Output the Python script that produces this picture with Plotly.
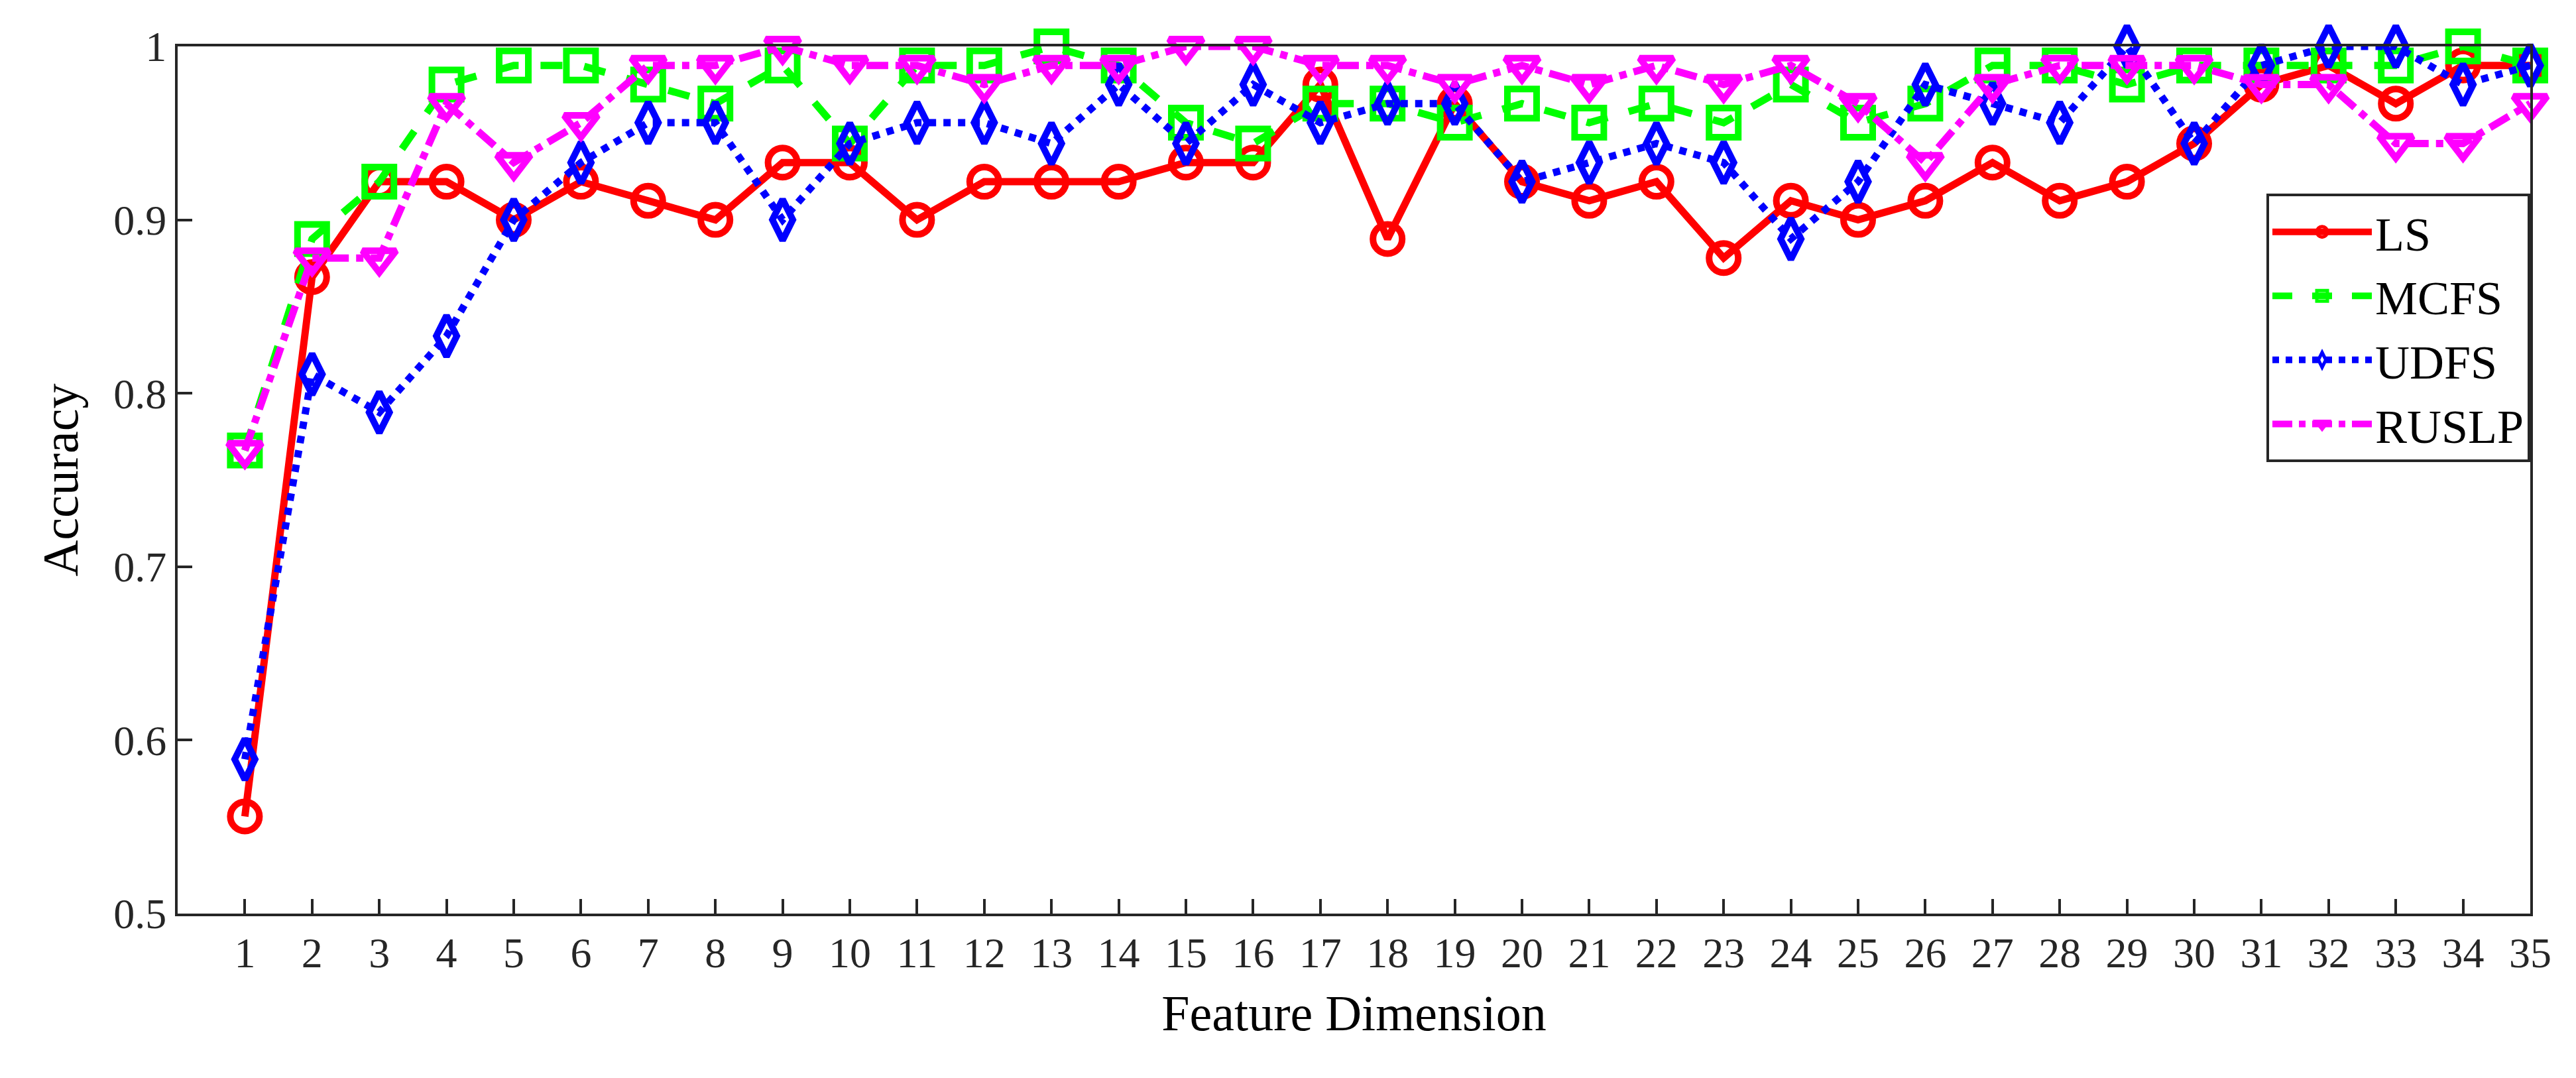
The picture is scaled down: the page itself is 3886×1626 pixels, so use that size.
import plotly.graph_objects as go

dims = list(range(1, 36))

ls = [0.556, 0.867, 0.922, 0.922, 0.9, 0.922, 0.911, 0.9, 0.933, 0.933, 0.9, 0.922,
      0.922, 0.922, 0.933, 0.933, 0.978, 0.889, 0.967, 0.922, 0.911, 0.922, 0.878,
      0.911, 0.9, 0.911, 0.933, 0.911, 0.922, 0.944, 0.978, 0.989, 0.967, 0.989, 0.989]
mcfs = [0.767, 0.889, 0.922, 0.978, 0.989, 0.989, 0.978, 0.967, 0.989, 0.944, 0.989, 0.989,
        1.0, 0.989, 0.956, 0.944, 0.967, 0.967, 0.956, 0.967, 0.956, 0.967, 0.956,
        0.978, 0.956, 0.967, 0.989, 0.989, 0.978, 0.989, 0.989, 0.989, 0.989, 1.0, 0.989]
udfs = [0.589, 0.811, 0.789, 0.833, 0.9, 0.933, 0.956, 0.956, 0.9, 0.944, 0.956, 0.956,
        0.944, 0.978, 0.944, 0.978, 0.956, 0.967, 0.967, 0.922, 0.933, 0.944, 0.933,
        0.889, 0.922, 0.978, 0.967, 0.956, 1.0, 0.944, 0.989, 1.0, 1.0, 0.978, 0.989]
ruslp = [0.767, 0.878, 0.878, 0.967, 0.933, 0.956, 0.989, 0.989, 1.0, 0.989, 0.989, 0.978,
         0.989, 0.989, 1.0, 1.0, 0.989, 0.989, 0.978, 0.989, 0.978, 0.989, 0.978,
         0.989, 0.967, 0.933, 0.978, 0.989, 0.989, 0.989, 0.978, 0.978, 0.944, 0.944, 0.967]

series = [
    ("LS", ls, "#ff0000", "solid", "circle-open"),
    ("MCFS", mcfs, "#00ff00", "dash", "square-open"),
    ("UDFS", udfs, "#0000ff", "dot", "diamond-tall-open"),
    ("RUSLP", ruslp, "#ff00ff", "dashdot", "triangle-down-open"),
]

fig = go.Figure()
for name, vals, col, dash, sym in series:
    fig.add_trace(go.Scatter(
        x=dims, y=vals, name=name, mode="lines+markers",
        line=dict(color=col, width=11, dash=dash),
        marker=dict(symbol=sym, size=44, color=col, line=dict(color=col, width=10)),
        cliponaxis=False,
    ))

font = "Liberation Serif, Times New Roman, serif"
axis = dict(showline=True, linecolor="#262626", linewidth=4, mirror=True,
            ticks="inside", ticklen=22, tickwidth=4, tickcolor="#262626",
            showgrid=False, zeroline=False, tickfont=dict(size=64, family=font, color="#262626"))

fig.update_layout(
    width=3886, height=1626,
    margin=dict(l=260, r=77, t=62, b=256),
    plot_bgcolor="white", paper_bgcolor="white",
    font=dict(family=font, color="black"),
    xaxis=dict(axis, range=[0, 35], tickvals=dims,
               title=dict(text="Feature Dimension", font=dict(size=76, family=font), standoff=30)),
    yaxis=dict(axis, range=[0.5, 1], tickvals=[0.5, 0.6, 0.7, 0.8, 0.9, 1],
               ticktext=["0.5", "0.6", "0.7", "0.8", "0.9", "1"],
               title=dict(text="Accuracy", font=dict(size=76, family=font), standoff=30)),
    legend=dict(x=1, y=0.83, xanchor="right", yanchor="top",
                bordercolor="#262626", borderwidth=4, bgcolor="white",
                font=dict(size=72, family=font), itemwidth=150, tracegroupgap=0),
)

fig.write_html("out.html")
